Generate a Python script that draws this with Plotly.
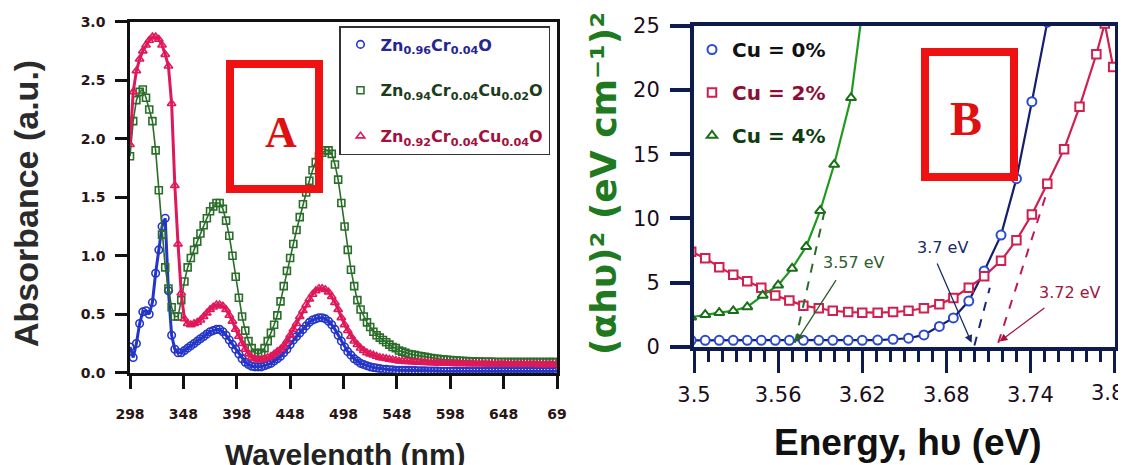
import plotly.graph_objects as go

# The page body has an 8px default margin, so the figure is placed at (8, 8);
# all layout pixel positions below are given in window pixels and converted.
OFF = 8
W, H = 1126 - OFF, 465 - OFF


def px(x):
    return (x - OFF) / W


def py(y):
    return 1 - (y - OFF) / H


# ---------------- Panel A data (absorbance spectra) ----------------
wavelength = list(range(298, 698, 3))  # 298 ... 697 nm

abs_zn96 = [
    0.22, 0.13, 0.25, 0.42, 0.52, 0.53, 0.50, 0.60, 0.85, 1.05,
    1.25, 1.32, 0.70, 0.32, 0.20, 0.17, 0.17, 0.19, 0.21, 0.23,
    0.25, 0.27, 0.29, 0.31, 0.33, 0.35, 0.36, 0.37, 0.37, 0.35,
    0.32, 0.28, 0.24, 0.20, 0.16, 0.12, 0.09, 0.07, 0.055, 0.05,
    0.05, 0.05, 0.06, 0.07, 0.08, 0.10, 0.12, 0.14, 0.17, 0.20,
    0.24, 0.28, 0.31, 0.34, 0.37, 0.40, 0.43, 0.45, 0.46, 0.47,
    0.47, 0.46, 0.44, 0.41, 0.37, 0.32, 0.27, 0.22, 0.18, 0.15,
    0.12, 0.10, 0.08, 0.07, 0.06, 0.05, 0.045, 0.04, 0.035, 0.03,
    0.03, 0.025, 0.025, 0.02, 0.02, 0.02, 0.02, 0.02,
    0.018, 0.018, 0.017, 0.016, 0.016, 0.015, 0.015, 0.014, 0.014, 0.013,
    0.013, 0.012, 0.012, 0.012, 0.011, 0.011, 0.011, 0.011, 0.010, 0.010,
    0.010, 0.010, 0.010, 0.010, 0.010, 0.010, 0.010, 0.010, 0.010, 0.010,
    0.010, 0.010, 0.010, 0.010, 0.010, 0.010, 0.010, 0.010, 0.010, 0.010,
    0.010, 0.010, 0.010, 0.010, 0.010, 0.010,
]

abs_cu02 = [
    1.85, 2.15, 2.33, 2.40, 2.42, 2.35, 2.25, 2.15, 1.90, 1.56,
    1.18, 0.90, 0.72, 0.56, 0.48, 0.48, 0.62, 0.78, 0.90, 0.98,
    1.05, 1.12, 1.19, 1.26, 1.32, 1.38, 1.42, 1.45, 1.45, 1.40,
    1.30, 1.17, 1.00, 0.82, 0.64, 0.48, 0.36, 0.27, 0.21, 0.17,
    0.16, 0.17, 0.21, 0.27, 0.34, 0.41, 0.49, 0.61, 0.74, 0.87,
    0.98, 1.10, 1.22, 1.33, 1.44, 1.54, 1.64, 1.73, 1.80, 1.85,
    1.88, 1.90, 1.90, 1.87, 1.78, 1.65, 1.45, 1.25, 1.05, 0.88,
    0.74, 0.62, 0.54, 0.48, 0.43, 0.39, 0.35, 0.32, 0.30, 0.28,
    0.26, 0.24, 0.22, 0.21, 0.19, 0.18, 0.17, 0.16,
    0.155, 0.15, 0.145, 0.14, 0.135, 0.13, 0.126, 0.122, 0.118, 0.115,
    0.112, 0.11, 0.108, 0.106, 0.104, 0.102, 0.10, 0.099, 0.098, 0.097,
    0.096, 0.095, 0.094, 0.094, 0.093, 0.093, 0.092, 0.092, 0.091, 0.091,
    0.09, 0.09, 0.09, 0.09, 0.09, 0.09, 0.09, 0.09, 0.09, 0.09,
    0.09, 0.09, 0.09, 0.09, 0.09, 0.09,
]

abs_cu04 = [
    1.95, 2.40, 2.58, 2.68, 2.75, 2.80, 2.84, 2.87, 2.87, 2.85,
    2.80, 2.72, 2.62, 2.30, 1.60, 1.10, 0.68, 0.46, 0.42, 0.41,
    0.42, 0.43, 0.45, 0.48, 0.51, 0.54, 0.56, 0.58, 0.58, 0.57,
    0.54, 0.49, 0.44, 0.37, 0.31, 0.25, 0.20, 0.16, 0.13, 0.12,
    0.11, 0.11, 0.12, 0.13, 0.14, 0.16, 0.18, 0.20, 0.23, 0.27,
    0.32, 0.37, 0.42, 0.48, 0.53, 0.58, 0.63, 0.67, 0.70, 0.72,
    0.72, 0.71, 0.69, 0.65, 0.60, 0.54, 0.47, 0.41, 0.36, 0.31,
    0.27, 0.24, 0.21, 0.19, 0.17, 0.16, 0.15, 0.14, 0.13, 0.125,
    0.12, 0.115, 0.11, 0.105, 0.10, 0.10, 0.095, 0.095,
    0.092, 0.09, 0.089, 0.088, 0.087, 0.086, 0.085, 0.084, 0.083, 0.082,
    0.081, 0.08, 0.08, 0.079, 0.078, 0.078, 0.077, 0.077, 0.076, 0.076,
    0.075, 0.075, 0.075, 0.074, 0.074, 0.074, 0.073, 0.073, 0.073, 0.073,
    0.072, 0.072, 0.072, 0.072, 0.072, 0.071, 0.071, 0.071, 0.071, 0.071,
    0.07, 0.07, 0.07, 0.07, 0.07, 0.07,
]

assert len(abs_zn96) == len(wavelength)
assert len(abs_cu02) == len(wavelength)
assert len(abs_cu04) == len(wavelength)

wl_tickvals = [298, 348, 398, 448, 498, 548, 598, 648, 698]
wl_ticktext = ["298", "348", "398", "448", "498", "548", "598", "648", "69"]

# ---------------- Panel B data (Tauc plots) ----------------
energy = [3.498, 3.508, 3.518, 3.528, 3.538, 3.548, 3.558, 3.568, 3.578, 3.589,
          3.599, 3.610, 3.620, 3.631, 3.642, 3.653, 3.664, 3.675, 3.685, 3.696,
          3.707, 3.719, 3.730, 3.741, 3.752]
tauc_cu0 = [0.5, 0.5, 0.5, 0.5, 0.5, 0.5, 0.5, 0.5, 0.5, 0.5,
            0.5, 0.5, 0.5, 0.52, 0.58, 0.66, 0.92, 1.58, 2.24, 3.56,
            5.9, 8.7, 13.1, 19.1, 25.3]

energy_cu2 = [3.498, 3.508, 3.518, 3.528, 3.538, 3.548, 3.558, 3.568, 3.578, 3.589,
              3.599, 3.610, 3.620, 3.631, 3.642, 3.653, 3.664, 3.675, 3.685, 3.696,
              3.707, 3.719, 3.730, 3.741, 3.752, 3.764, 3.775, 3.787, 3.793, 3.799]
tauc_cu2 = [7.4, 6.9, 6.2, 5.6, 5.1, 4.6, 4.0, 3.6, 3.2, 3.0,
            2.8, 2.7, 2.65, 2.65, 2.7, 2.8, 3.0, 3.3, 3.8, 4.6,
            5.5, 6.7, 8.3, 10.3, 12.7, 15.4, 18.7, 22.8, 25.2, 21.8]

energy_cu4 = [3.498, 3.508, 3.518, 3.528, 3.538, 3.549, 3.560, 3.570, 3.580, 3.590,
              3.600, 3.612, 3.621]
tauc_cu4 = [2.3, 2.5, 2.65, 2.8, 3.1, 4.0, 4.8, 6.1, 7.8, 10.6,
            14.2, 19.4, 27.0]

energy_ticks = [3.5, 3.56, 3.62, 3.68, 3.74, 3.8]
# the last label ("3.8") sits against the right edge and is drawn separately
energy_ticktext = ["3.5", "3.56", "3.62", "3.68", "3.74", ""]
last_energy_label = "3.8"

# tangent (extrapolation) lines and their gap values
tangent_cu4_x, tangent_cu4_y = [3.572, 3.594], [0.3, 11.0]
tangent_cu0_x, tangent_cu0_y = [3.700, 3.711], [0.1, 4.6]
tangent_cu2_x, tangent_cu2_y = [3.717, 3.751], [0.3, 11.8]

gap_labels = ["3.57 eV", "3.7 eV", "3.72 eV"]
gap_label_pos = [(3.614, 6.6), (3.677, 7.7), (3.768, 4.2)]
gap_arrow_from = [(3.602, 5.3), (3.673, 6.6), (3.751, 3.1)]
gap_arrow_to = [(3.573, 0.4), (3.698, 0.3), (3.718, 0.4)]
gap_colors = ["#2d5e2d", "#1a2a6a", "#a0163c"]

# ---------------- colours ----------------
BLUE = "#2436c8"
GREEN = "#2a6e2a"
RED = "#e0185a"
NAVY = "#0d1b4f"

fig = go.Figure()

# Panel A traces
seriesA = [
    (abs_zn96, BLUE, "circle-open", 7.5, 3.0,
     '<span style="color:#26268f">Zn<sub>0.96</sub>Cr<sub>0.04</sub>O</span>'),
    (abs_cu02, GREEN, "square-open", 7, 1.6,
     '<span style="color:#1c3c1c">Zn<sub>0.94</sub>Cr<sub>0.04</sub>Cu<sub>0.02</sub>O</span>'),
    (abs_cu04, RED, "triangle-up-open", 7.5, 3.0,
     '<span style="color:#a3103d">Zn<sub>0.92</sub>Cr<sub>0.04</sub>Cu<sub>0.04</sub>O</span>'),
]
for i, (vals, col, sym, size, lw, name) in enumerate(seriesA):
    fig.add_trace(go.Scatter(
        x=wavelength, y=vals, mode="lines", xaxis="x", yaxis="y",
        line=dict(color=col, width=lw), showlegend=False, hoverinfo="skip"))
    fig.add_trace(go.Scatter(
        x=wavelength, y=vals, mode="markers", xaxis="x", yaxis="y",
        marker=dict(symbol=sym, size=size, color=col, line=dict(width=1.6, color=col)),
        name=name, legend="legend", legendgroup="a%d" % i))

# Panel B traces
seriesB = [
    (energy, tauc_cu0, "#141f6e", "#2a4ad0", "circle", 9,
     '<span style="color:#111111">Cu = 0%</span>'),
    (energy_cu2, tauc_cu2, "#d0204f", "#d0204f", "square", 8.5,
     '<span style="color:#8b0f35">Cu = 2%</span>'),
    (energy_cu4, tauc_cu4, "#1e9a1e", "#1a6e1a", "triangle-up", 9,
     '<span style="color:#0f3d0f">Cu = 4%</span>'),
]
for i, (xs, ys, lcol, mcol, sym, size, name) in enumerate(seriesB):
    fig.add_trace(go.Scatter(
        x=xs, y=ys, mode="lines", xaxis="x2", yaxis="y2",
        line=dict(color=lcol, width=2.2), showlegend=False, hoverinfo="skip"))
for i, (xs, ys, lcol, mcol, sym, size, name) in enumerate(seriesB):
    fig.add_trace(go.Scatter(
        x=xs, y=ys, mode="markers", xaxis="x2", yaxis="y2",
        marker=dict(symbol=sym, size=size, color="white", line=dict(width=2, color=mcol)),
        name=name, legend="legend2", legendgroup="b%d" % i))

for tx, ty, col in [(tangent_cu4_x, tangent_cu4_y, "#2a6a2a"),
                    (tangent_cu0_x, tangent_cu0_y, "#1a237e"),
                    (tangent_cu2_x, tangent_cu2_y, "#c2185b")]:
    fig.add_trace(go.Scatter(
        x=tx, y=ty, mode="lines", xaxis="x2", yaxis="y2",
        line=dict(color=col, width=2, dash="dash"), showlegend=False, hoverinfo="skip"))


def ann(text, x, y, size, color, family="Liberation Sans", bold=True, angle=0):
    return dict(text=text, xref="paper", yref="paper", x=px(x), y=py(y),
                xanchor="center", yanchor="middle", textangle=angle, showarrow=False,
                font=dict(family=family, size=size, color=color,
                          weight="bold" if bold else "normal"))


tickfontA = dict(family="DejaVu Sans", size=14, color="#2a1515", weight="bold")
tickfontB = dict(family="DejaVu Sans", size=21, color="#1a0d1a")

annotations = [
    ann("Absorbance (a.u.)", 26, 204, 34, "#2b2b2b", angle=-90),
    ann("Wavelength (nm)", 345, 454, 30, "#222222"),
    ann("Energy, hυ (eV)", 908, 442, 37, "#111111"),
    ann("(αhυ)² (eV cm⁻¹)²", 604, 184, 36, "#1f7a1f", family="DejaVu Sans", angle=-90),
    ann("A", 281, 132, 44, "#e01010", family="Liberation Serif"),
    ann("B", 966, 118, 48, "#e01010", family="Liberation Serif"),
    ann(last_energy_label, 1107, 393, 21, "#1a0d1a", family="DejaVu Sans", bold=False),
]
# band-gap labels and arrows
for lab, (lx, ly), (fx, fy), (tx, ty), col in zip(gap_labels, gap_label_pos, gap_arrow_from,
                                                  gap_arrow_to, gap_colors):
    annotations.append(dict(text=lab, xref="x2", yref="y2", x=lx, y=ly, showarrow=False,
                            xanchor="center", yanchor="middle",
                            font=dict(family="DejaVu Sans", size=16, color=col)))
    annotations.append(dict(text="", xref="x2", yref="y2", x=tx, y=ty,
                            axref="x2", ayref="y2", ax=fx, ay=fy, showarrow=True,
                            arrowhead=2, arrowsize=1.2, arrowwidth=1.3, arrowcolor=col))

shapes = [
    dict(type="rect", xref="paper", yref="paper", x0=px(230), x1=px(319), y0=py(189), y1=py(64),
         line=dict(color="#f01212", width=8)),
    dict(type="rect", xref="paper", yref="paper", x0=px(925), x1=px(1014), y0=py(177), y1=py(52),
         line=dict(color="#f01212", width=8)),
]

fig.update_layout(
    width=W, height=H,
    margin=dict(l=0, r=0, t=0, b=0, pad=0, autoexpand=False),
    paper_bgcolor="white", plot_bgcolor="white",
    xaxis=dict(domain=[px(130), px(557)], range=[298, 698], tickmode="array",
               tickvals=wl_tickvals, ticktext=wl_ticktext, ticks="outside", ticklen=14,
               tickwidth=2.5, tickcolor="#111111", showline=True, linewidth=2.5,
               linecolor="#111111", mirror=True, showgrid=False, zeroline=False,
               tickfont=tickfontA, ticklabelstandoff=13, anchor="y", automargin=False),
    yaxis=dict(domain=[py(372.7), py(21.7)], range=[0, 3.0], tickmode="linear", tick0=0,
               dtick=0.5, tickformat=".1f", ticks="outside", ticklen=12, tickwidth=2.5,
               tickcolor="#111111", showline=True, linewidth=2.5, linecolor="#111111",
               mirror=True, showgrid=False, zeroline=False, tickfont=tickfontA,
               ticklabelstandoff=7, anchor="x", automargin=False),
    xaxis2=dict(domain=[px(694), px(1115)], range=[3.5, 3.8003], tickmode="array",
                tickvals=energy_ticks, ticktext=energy_ticktext, ticks="outside", ticklen=22,
                tickwidth=3, tickcolor=NAVY, showline=True, linewidth=4, linecolor=NAVY,
                mirror=True, showgrid=False, zeroline=False, tickfont=tickfontB,
                ticklabelstandoff=4,
                minor=dict(tickmode="linear", tick0=3.5, dtick=0.01, ticks="outside",
                           ticklen=11, tickwidth=2.5, tickcolor=NAVY, showgrid=False),
                anchor="y2", automargin=False),
    yaxis2=dict(domain=[py(346.7), py(26)], range=[0, 25], tickmode="linear", tick0=0,
                dtick=5, ticks="outside", ticklen=20, tickwidth=3.5, tickcolor=NAVY,
                showline=True, linewidth=4, linecolor=NAVY, mirror=True, showgrid=False,
                zeroline=False, tickfont=tickfontB, ticklabelstandoff=6, anchor="x2",
                automargin=False),
    legend=dict(x=px(339), y=py(26), xanchor="left", yanchor="top", bgcolor="white",
                bordercolor="#333333", borderwidth=1.5, tracegroupgap=22,
                font=dict(family="DejaVu Sans", size=16, weight="bold")),
    legend2=dict(x=px(692), y=py(30), xanchor="left", yanchor="top",
                 bgcolor="rgba(0,0,0,0)", borderwidth=0, tracegroupgap=14,
                 font=dict(family="DejaVu Sans", size=20, weight="bold")),
    annotations=annotations,
    shapes=shapes,
    showlegend=True,
)

fig.write_html("out.html")
